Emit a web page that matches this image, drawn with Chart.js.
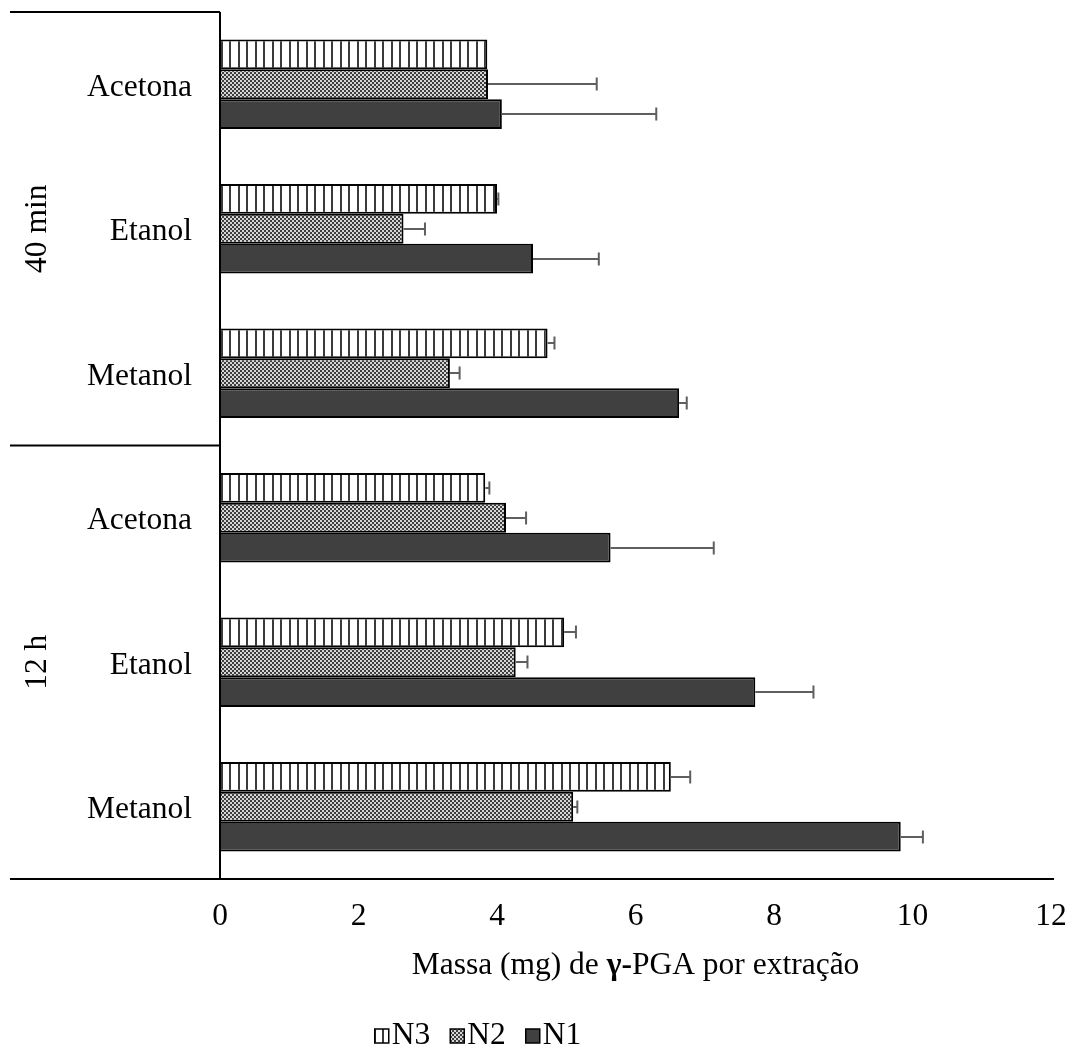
<!DOCTYPE html>
<html>
<head>
<meta charset="utf-8">
<script src="https://cdn.jsdelivr.net/npm/chart.js@4.4.1/dist/chart.umd.min.js"></script>
<style>
  html, body { margin: 0; padding: 0; background: #ffffff; }
  #wrap { width: 1078px; height: 1052px; position: relative; }
</style>
</head>
<body>
<div id="wrap"><canvas id="chart"></canvas></div>
<script>
// Solvent per extraction time (top block: 40 min, bottom block: 12 h)
const categories = ['Acetona', 'Etanol', 'Metanol', 'Acetona', 'Etanol', 'Metanol'];
const timeGroups = ['40 min', '12 h'];
const seriesNames = ['N3', 'N2', 'N1'];

// Mass of γ-PGA (mg) per extraction
const n3Values = [3.86, 4.00, 4.73, 3.83, 4.97, 6.51];
const n2Values = [3.87, 2.65, 3.32, 4.13, 4.27, 5.10];
const n1Values = [4.07, 4.52, 6.63, 5.64, 7.73, 9.83];

// Positive error (standard deviation)
const n3Errors = [0.00, 0.02, 0.10, 0.06, 0.17, 0.28];
const n2Errors = [1.57, 0.31, 0.14, 0.29, 0.17, 0.06];
const n1Errors = [2.23, 0.95, 0.11, 1.49, 0.84, 0.32];

const xTicks = [0, 2, 4, 6, 8, 10, 12];

const FONT = '"Liberation Serif", "Times New Roman", serif';
const FS = 31.5;

// ---- fill patterns ----
function stripePattern() {
  const c = document.createElement('canvas');
  c.width = 17; c.height = 10;
  const g = c.getContext('2d');
  g.fillStyle = '#ffffff';
  g.fillRect(0, 0, 17, 10);
  g.fillStyle = '#3a3a3a';
  g.fillRect(0, 0, 2, 10);
  g.fillRect(8, 0, 2, 10);
  return g.createPattern(c, 'repeat');
}
function checkerPattern() {
  const c = document.createElement('canvas');
  c.width = 4; c.height = 4;
  const g = c.getContext('2d');
  g.fillStyle = '#3e3e3e';
  g.fillRect(0, 0, 4, 4);
  g.fillStyle = '#d6d6d6';
  g.fillRect(0, 0, 2, 2);
  g.fillRect(2, 2, 2, 2);
  return g.createPattern(c, 'repeat');
}
const fills = [stripePattern(), checkerPattern(), '#404040'];
const errors = [n3Errors, n2Errors, n1Errors];

// ---- error bars (positive side only) ----
const errorBarPlugin = {
  id: 'errorBars',
  afterDatasetsDraw(chart) {
    const ctx = chart.ctx;
    const xs = chart.scales.x;
    ctx.save();
    ctx.strokeStyle = '#5f5f5f';
    ctx.lineWidth = 2;
    chart.data.datasets.forEach((ds, di) => {
      const meta = chart.getDatasetMeta(di);
      meta.data.forEach((bar, i) => {
        const err = errors[di][i];
        if (!err) return;
        const x0 = bar.x;
        const x1 = xs.getPixelForValue(ds.data[i] + err);
        const y = Math.round(bar.y);
        ctx.beginPath();
        ctx.moveTo(x0, y);
        ctx.lineTo(x1, y);
        ctx.moveTo(x1, y - 6.5);
        ctx.lineTo(x1, y + 6.5);
        ctx.stroke();
      });
    });
    ctx.restore();
  }
};

// ---- frame lines, group labels, axis title and legend ----
const framePlugin = {
  id: 'frame',
  afterDraw(chart) {
    const ctx = chart.ctx;
    const a = chart.chartArea;
    const ys = chart.scales.y;
    const left = 10;
    ctx.save();
    ctx.strokeStyle = '#000000';
    ctx.lineWidth = 2;
    // category axis line
    ctx.beginPath();
    ctx.moveTo(a.left, a.top);
    ctx.lineTo(a.left, a.bottom);
    ctx.stroke();
    // group separators on the left
    const sepTop = a.top;
    const sepMid = (ys.getPixelForValue(2) + ys.getPixelForValue(3)) / 2;
    ctx.beginPath();
    ctx.moveTo(left, sepTop); ctx.lineTo(a.left, sepTop);
    ctx.moveTo(left, sepMid); ctx.lineTo(a.left, sepMid);
    ctx.stroke();
    // value axis line, extended under the labels
    ctx.beginPath();
    ctx.moveTo(left, a.bottom);
    ctx.lineTo(a.right + 3, a.bottom);
    ctx.stroke();

    // rotated group labels
    ctx.fillStyle = '#000000';
    ctx.font = FS + 'px ' + FONT;
    ctx.textAlign = 'center';
    ctx.textBaseline = 'middle';
    const centers = [(sepTop + sepMid) / 2, (sepMid + a.bottom) / 2];
    timeGroups.forEach((t, i) => {
      ctx.save();
      ctx.translate(38, centers[i]);
      ctx.rotate(-Math.PI / 2);
      ctx.fillText(t, 0, 0);
      ctx.restore();
    });

    // axis title with bold gamma
    const parts = [
      { t: 'Massa (mg) de ', b: false },
      { t: 'γ-', b: true },
      { t: 'PGA por extração', b: false }
    ];
    let total = 0;
    parts.forEach(p => {
      ctx.font = (p.b ? 'bold ' : '') + FS + 'px ' + FONT;
      p.w = ctx.measureText(p.t).width;
      total += p.w;
    });
    let tx = (a.left + a.right) / 2 - total / 2;
    ctx.textAlign = 'left';
    parts.forEach(p => {
      ctx.font = (p.b ? 'bold ' : '') + FS + 'px ' + FONT;
      ctx.fillText(p.t, tx, 966);
      tx += p.w;
    });

    // legend
    ctx.font = FS + 'px ' + FONT;
    const box = 14, gapBox = 3, gapItem = 20;
    let lw = 0;
    const widths = seriesNames.map(n => ctx.measureText(n).width);
    widths.forEach((w, i) => { lw += box + gapBox + w + (i < widths.length - 1 ? gapItem : 0); });
    let lx = 478 - lw / 2;
    const ly = 1036;
    seriesNames.forEach((n, i) => {
      ctx.fillStyle = fills[i];
      ctx.fillRect(lx, ly - box / 2, box, box);
      ctx.lineWidth = 1.5;
      ctx.strokeStyle = '#000000';
      ctx.strokeRect(lx, ly - box / 2, box, box);
      ctx.fillStyle = '#000000';
      ctx.fillText(n, lx + box + gapBox, ly);
      lx += box + gapBox + widths[i] + gapItem;
    });
    ctx.restore();
  }
};

function noPadding(scale) {
  scale.paddingTop = 0;
  scale.paddingBottom = 0;
  scale.paddingLeft = 0;
  scale.paddingRight = 0;
}

new Chart(document.getElementById('chart'), {
  type: 'bar',
  data: {
    labels: categories,
    datasets: [
      { label: seriesNames[0], data: n3Values, backgroundColor: fills[0] },
      { label: seriesNames[1], data: n2Values, backgroundColor: fills[1] },
      { label: seriesNames[2], data: n1Values, backgroundColor: fills[2] }
    ]
  },
  options: {
    indexAxis: 'y',
    responsive: true,
    maintainAspectRatio: false,
    animation: false,
    devicePixelRatio: 1,
    layout: { padding: { left: 10, top: 12, right: 27, bottom: 0 } },
    datasets: {
      bar: {
        borderColor: '#000000',
        borderWidth: 2,
        categoryPercentage: 0.62,
        barPercentage: 1.0
      }
    },
    plugins: {
      legend: { display: false },
      tooltip: { enabled: false },
      title: { display: false }
    },
    scales: {
      x: {
        type: 'linear',
        min: 0,
        max: 12,
        afterBuildTicks(scale) { scale.ticks = xTicks.map(v => ({ value: v })); },
        afterFit(scale) { scale.height = 173; noPadding(scale); },
        grid: { display: false, drawTicks: false },
        border: { display: false },
        ticks: { font: { family: FONT, size: FS }, color: '#000000', padding: 19 }
      },
      y: {
        type: 'category',
        afterFit(scale) { scale.width = 210; noPadding(scale); },
        grid: { display: false, drawTicks: false },
        border: { display: false },
        ticks: { font: { family: FONT, size: FS }, color: '#000000', padding: 28, labelOffset: 3, autoSkip: false }
      }
    }
  },
  plugins: [errorBarPlugin, framePlugin]
});
</script>
</body>
</html>
